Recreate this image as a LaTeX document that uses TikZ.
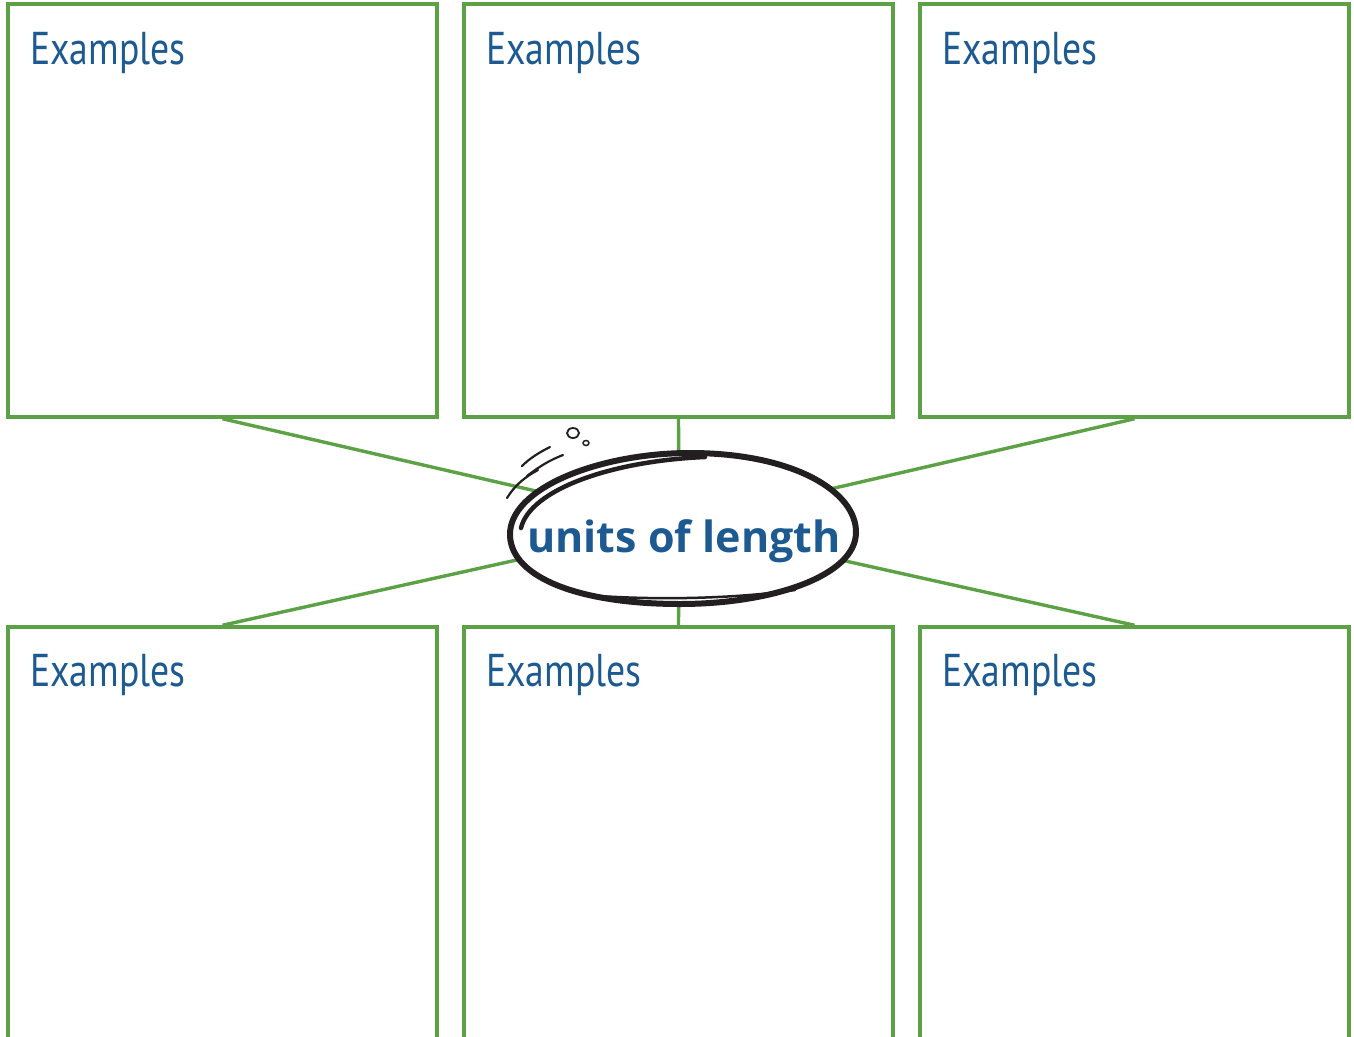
\documentclass[tikz,border=0pt]{standalone}
\usepackage{fontspec}
\newfontfamily\exfont[FakeStretch=0.82]{PT Sans}
\newfontfamily\titlefont{Open Sans}
\definecolor{boxgreen}{HTML}{5DA146}
\definecolor{textblue}{HTML}{1D5A92}
\definecolor{inkblack}{HTML}{231F20}
\begin{document}
\begin{tikzpicture}[x=1pt,y=-1pt,
  card/.style={draw=boxgreen,line width=3.5pt,minimum width=429pt,minimum height=413pt,inner sep=0pt,fill=white},
  link/.style={draw=boxgreen,line width=3.4pt},
  label/.style={text=textblue,font=\exfont\fontsize{46}{46}\selectfont,anchor=base west,inner sep=0pt},
  ink/.style={draw=inkblack,line cap=round}]
\useasboundingbox (0,0) rectangle (1354,1036);
\node[card] (tl) at (222.5,210.5) {};
\node[card] (tc) at (678.5,210.5) {};
\node[card] (tr) at (1134.5,210.5) {};
\node[card] (bl) at (222.5,833.5) {};
\node[card] (bc) at (678.5,833.5) {};
\node[card] (br) at (1134.5,833.5) {};
\node[label] (l1) at (30,64) {Examples};
\node[label] (l2) at (486,64) {Examples};
\node[label] (l3) at (942,64) {Examples};
\node[label] (l4) at (30,686) {Examples};
\node[label] (l5) at (486,686) {Examples};
\node[label] (l6) at (942,686) {Examples};
\coordinate (c) at (679,524);
\draw[link] (tl.south) -- (c);
\draw[link] (tc.south) -- (c);
\draw[link] (tr.south) -- (c);
\draw[link] (bl.north) -- (c);
\draw[link] (bc.north) -- (c);
\draw[link] (br.north) -- (c);
% hand drawn ellipse
\draw[ink,line width=6pt,fill=white,line join=round]
  (510,536) .. controls (508,488) and (600,453) .. (690,453)
  .. controls (794,453) and (857,492) .. (856,533)
  .. controls (855,576) and (772,604) .. (680,604)
  .. controls (580,604) and (512,578) .. (510,536) -- cycle;
\draw[ink,line width=4.5pt] (521,528) .. controls (530,490) and (610,461) .. (705,457);
\draw[ink,line width=2.5pt] (585,595) .. controls (660,601) and (740,598) .. (795,590);
\draw[ink,line width=2.2pt] (507,498) .. controls (515,485) and (525,477) .. (538,470);
\draw[ink,line width=2.2pt] (522,466) .. controls (530,458) and (540,452) .. (550,447);
\draw[ink,line width=2.2pt] (527,476) .. controls (540,466) and (550,460) .. (563,455);
\draw[ink,line width=1.8pt] (573,433) ellipse [x radius=6pt,y radius=5pt];
\draw[ink,line width=1.5pt] (586,443) ellipse [x radius=3pt,y radius=2.5pt];
\node[text=textblue,font=\titlefont\bfseries\fontsize{43}{43}\selectfont,inner sep=0pt,anchor=base] (title) at (684,552) {units of length};
\end{tikzpicture}
\end{document}
